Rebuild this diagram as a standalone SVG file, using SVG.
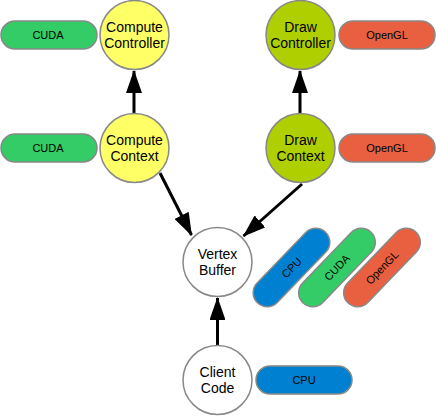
<svg xmlns="http://www.w3.org/2000/svg" width="436" height="416" viewBox="0 0 436 416">
<defs>
<style>
.n{stroke:#888;stroke-width:1.5}
.y{fill:#ffff66}
.g{fill:#b0cf00}
.w{fill:#fff}
.t{font-family:"Liberation Sans",Arial,sans-serif;font-size:14px;fill:#000;text-anchor:middle}
.pt{font-family:"Liberation Sans",Arial,sans-serif;font-size:11px;fill:#000;text-anchor:middle}
.cuda{fill:#33cc66}
.gl{fill:#e96040}
.cpu{fill:#0080d0}
.c{stroke:#000;stroke-width:3;fill:none}
</style>
<marker id="ah" viewBox="0 0 23 16" refX="22" refY="8" markerWidth="7.67" markerHeight="5.33" markerUnits="strokeWidth" orient="auto">
<path d="M0,0 L23,8 L0,16 Z" fill="#000"/>
</marker>
</defs>
<g id="connectors">
<line class="c" x1="134" y1="113" x2="134" y2="71" marker-end="url(#ah)"/>
<line class="c" x1="300" y1="113" x2="300" y2="71" marker-end="url(#ah)"/>
<line class="c" x1="160" y1="173" x2="191.5" y2="235" marker-end="url(#ah)"/>
<line class="c" x1="302" y1="184" x2="243.5" y2="236" marker-end="url(#ah)"/>
<line class="c" x1="217.5" y1="345" x2="217.5" y2="298" marker-end="url(#ah)"/>
</g>
<g id="compute-controller">
<circle class="n y" cx="134.5" cy="35" r="34.5"/>
<text class="t" x="134.5" y="32">Compute</text>
<text class="t" x="134.5" y="48">Controller</text>
</g>
<g id="compute-context">
<circle class="n y" cx="134.5" cy="148" r="34.5"/>
<text class="t" x="134.5" y="145">Compute</text>
<text class="t" x="134.5" y="161">Context</text>
</g>
<g id="draw-controller">
<circle class="n g" cx="300.5" cy="35" r="34.5"/>
<text class="t" x="300.5" y="32">Draw</text>
<text class="t" x="300.5" y="48">Controller</text>
</g>
<g id="draw-context">
<circle class="n g" cx="300.5" cy="148" r="34.5"/>
<text class="t" x="300.5" y="145">Draw</text>
<text class="t" x="300.5" y="161">Context</text>
</g>
<g id="vertex-buffer">
<circle class="n w" cx="217.5" cy="262" r="34.5"/>
<text class="t" x="217.5" y="259">Vertex</text>
<text class="t" x="217.5" y="275">Buffer</text>
</g>
<g id="client-code">
<circle class="n w" cx="217.5" cy="380" r="34.5"/>
<text class="t" x="217.5" y="377">Client</text>
<text class="t" x="217.5" y="393">Code</text>
</g>
<g id="cuda-1">
<rect class="n cuda" x="1" y="21" width="96" height="28" rx="14"/>
<text class="pt" x="48" y="39">CUDA</text>
</g>
<g id="cuda-2">
<rect class="n cuda" x="1" y="134" width="96" height="28" rx="14"/>
<text class="pt" x="48" y="152">CUDA</text>
</g>
<g id="opengl-1">
<rect class="n gl" x="339" y="21" width="96" height="28" rx="14"/>
<text class="pt" x="387" y="39">OpenGL</text>
</g>
<g id="opengl-2">
<rect class="n gl" x="339" y="134" width="96" height="28" rx="14"/>
<text class="pt" x="387" y="152">OpenGL</text>
</g>
<g id="cpu-1">
<rect class="n cpu" x="256" y="366" width="96" height="28" rx="14"/>
<text class="pt" x="304" y="384">CPU</text>
</g>
<g id="cpu-rot" transform="translate(291.5,267.5) rotate(-46)">
<rect class="n cpu" x="-49" y="-14" width="98" height="28" rx="14"/>
<text class="pt" x="0" y="4">CPU</text>
</g>
<g id="cuda-rot" transform="translate(337,267.5) rotate(-46)">
<rect class="n cuda" x="-49" y="-14" width="98" height="28" rx="14"/>
<text class="pt" x="0" y="4">CUDA</text>
</g>
<g id="opengl-rot" transform="translate(382,267.5) rotate(-46)">
<rect class="n gl" x="-49" y="-14" width="98" height="28" rx="14"/>
<text class="pt" x="0" y="4">OpenGL</text>
</g>
</svg>
